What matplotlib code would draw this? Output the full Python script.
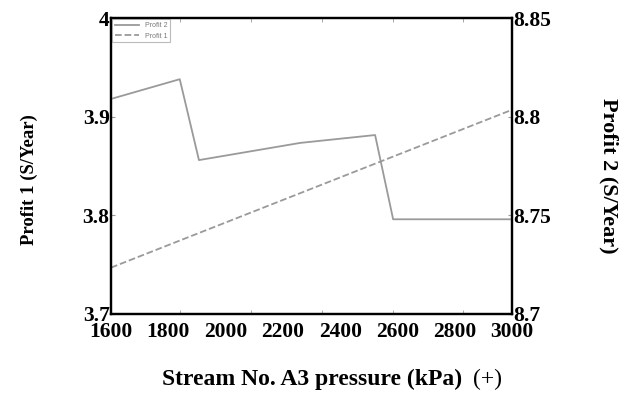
import numpy as np
import matplotlib.pyplot as plt

# data
pressure_p2 = [1600, 1840, 1907, 2260, 2522, 2585, 3000]
profit2 = [8.809, 8.819, 8.778, 8.7867, 8.7907, 8.748, 8.748]
pressure_p1 = [1600, 2300, 3000]
profit1 = [3.747, 3.827, 3.907]
xlabels = [1600, 1800, 2000, 2200, 2400, 2600, 2800, 3000]
xmarks = [1840, 2088, 2335, 2583, 2830]

plt.rcParams['font.family'] = ['Liberation Serif', 'DejaVu Serif']
lc = '#9a9a9a'

fig = plt.figure(figsize=(6.29, 4.01), dpi=100)
ax = fig.add_axes([0.1765, 0.217, 0.6375, 0.738])
ax2 = ax.twinx()

l1, = ax2.plot(pressure_p2, profit2, '-', color=lc, lw=1.3, label='Profit 2')
l2, = ax.plot(pressure_p1, profit1, '--', color=lc, lw=1.3, label='Profit 1')

ax.set_xlim(1600, 3000)
ax.set_ylim(3.7, 4.0)
ax2.set_ylim(8.7, 8.85)

ax.set_xticks(xlabels)
ax.set_xticklabels([str(v) for v in xlabels], fontsize=15.5, fontweight='bold')
ax.tick_params(axis='x', length=0, pad=6)
ax.set_xticks(xmarks, minor=True)
ax.tick_params(axis='x', which='minor', direction='in', length=3, color=lc,
               top=True, bottom=True)

ax.set_yticks([3.7, 3.8, 3.9, 4.0])
ax.set_yticklabels(['3.7', '3.8', '3.9', '4'], fontsize=15.5, fontweight='bold')
ax.tick_params(axis='y', direction='in', length=3, color=lc, pad=1)
ax2.set_yticks([8.7, 8.75, 8.8, 8.85])
ax2.set_yticklabels(['8.7', '8.75', '8.8', '8.85'], fontsize=15.5, fontweight='bold')
ax2.tick_params(axis='y', direction='in', length=3, color=lc, pad=1)

for a in (ax, ax2):
    for s in a.spines.values():
        s.set_linewidth(1.6)
        s.set_color('black')

ax.set_ylabel('Profit 1 (S/Year)', fontsize=13.5, fontweight='bold')
ax.yaxis.set_label_coords(-0.182, 0.453)
ax2.set_ylabel('Profit 2 (S/Year)', fontsize=16, fontweight='bold', rotation=-90)
ax2.yaxis.set_label_coords(1.266, 0.466)

fig.text(0.258, 0.053, 'Stream No. A3 pressure (kPa)', fontsize=17,
         fontweight='bold', ha='left', va='center')
fig.text(0.752, 0.053, '(+)', fontsize=17, ha='left', va='center')

leg = ax.legend(handles=[l1, l2], loc='upper left',
                prop={'family': 'Liberation Sans', 'size': 5},
                frameon=True, fancybox=False, borderaxespad=0.2,
                handlelength=3.5, labelcolor='#777777')
leg.get_frame().set_edgecolor('#aaaaaa')
leg.get_frame().set_linewidth(0.8)

fig.savefig('out.png', dpi=100)
